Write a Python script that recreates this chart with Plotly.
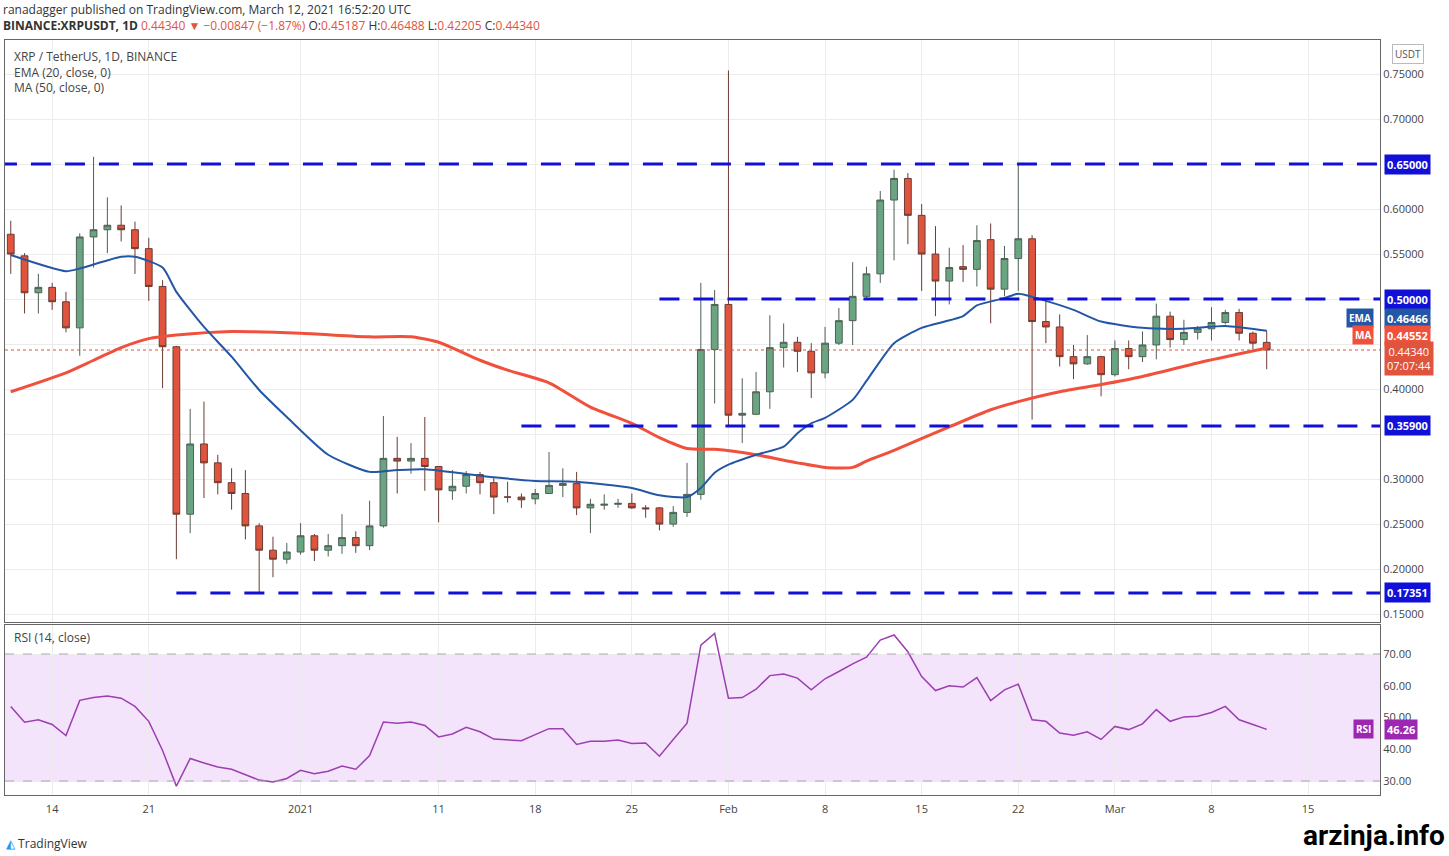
import pandas as pd
import plotly.graph_objects as go
from plotly.subplots import make_subplots

dates = [d.strftime("%Y-%m-%d") for d in pd.date_range("2020-12-11", periods=92, freq="D")]
opens = [0.572,0.548,0.507,0.513,0.497,0.468,0.569,0.577,0.582,0.577,0.556,0.514,0.447,0.261,0.339,0.318,0.296,0.284,0.248,0.221,0.211,0.219,0.237,0.221,0.226,0.235,0.226,0.248,0.323,0.320,0.323,0.314,0.287,0.292,0.305,0.296,0.280,0.280,0.278,0.284,0.293,0.295,0.268,0.271,0.272,0.273,0.268,0.268,0.250,0.263,0.283,0.444,0.494,0.371,0.372,0.397,0.446,0.452,0.442,0.418,0.451,0.476,0.503,0.528,0.610,0.634,0.593,0.550,0.520,0.536,0.533,0.566,0.511,0.545,0.567,0.475,0.469,0.436,0.428,0.436,0.416,0.445,0.436,0.449,0.481,0.455,0.463,0.467,0.474,0.485,0.462,0.45187]
highs = [0.587,0.551,0.528,0.518,0.508,0.573,0.658,0.613,0.604,0.586,0.568,0.521,0.448,0.378,0.386,0.327,0.312,0.310,0.251,0.236,0.229,0.251,0.239,0.239,0.261,0.242,0.276,0.370,0.347,0.340,0.369,0.314,0.310,0.309,0.308,0.301,0.297,0.284,0.289,0.330,0.312,0.308,0.278,0.283,0.278,0.284,0.271,0.269,0.270,0.318,0.518,0.510,0.754,0.412,0.419,0.482,0.473,0.458,0.451,0.469,0.490,0.541,0.536,0.620,0.6437,0.640,0.6055,0.581,0.557,0.560,0.582,0.584,0.559,0.650,0.571,0.498,0.483,0.449,0.460,0.437,0.454,0.454,0.464,0.495,0.486,0.477,0.470,0.491,0.488,0.489,0.464,0.46488]
lows = [0.528,0.484,0.484,0.488,0.463,0.437,0.535,0.551,0.564,0.528,0.498,0.401,0.211,0.240,0.279,0.283,0.266,0.233,0.174,0.191,0.206,0.216,0.209,0.214,0.217,0.218,0.221,0.246,0.284,0.306,0.287,0.252,0.277,0.284,0.283,0.261,0.274,0.268,0.272,0.284,0.280,0.260,0.240,0.266,0.268,0.267,0.257,0.243,0.247,0.258,0.277,0.384,0.360,0.340,0.371,0.378,0.424,0.419,0.390,0.412,0.449,0.449,0.500,0.518,0.543,0.561,0.509,0.481,0.494,0.519,0.514,0.473,0.503,0.509,0.366,0.451,0.425,0.411,0.427,0.392,0.414,0.422,0.430,0.433,0.446,0.449,0.455,0.454,0.472,0.454,0.444,0.42205]
closes = [0.550,0.507,0.513,0.497,0.468,0.569,0.577,0.582,0.577,0.556,0.514,0.447,0.261,0.339,0.318,0.296,0.284,0.248,0.221,0.211,0.219,0.237,0.221,0.226,0.235,0.226,0.248,0.323,0.320,0.323,0.314,0.288,0.292,0.305,0.296,0.280,0.280,0.277,0.284,0.293,0.295,0.268,0.272,0.272,0.273,0.268,0.267,0.250,0.263,0.283,0.444,0.494,0.371,0.373,0.397,0.446,0.452,0.442,0.418,0.451,0.476,0.503,0.528,0.610,0.634,0.593,0.550,0.520,0.535,0.533,0.565,0.511,0.545,0.567,0.475,0.469,0.436,0.428,0.436,0.416,0.445,0.436,0.449,0.481,0.455,0.463,0.467,0.474,0.485,0.462,0.451,0.44340]

ema_dates = ["2020-12-11","2020-12-15","2020-12-16","2020-12-19","2020-12-20","2020-12-22","2020-12-23","2020-12-25","2020-12-27","2020-12-29","2020-12-31","2021-01-03","2021-01-06","2021-01-08","2021-01-10","2021-01-15","2021-01-18","2021-01-21","2021-01-25","2021-01-27","2021-01-29","2021-01-30","2021-01-31","2021-02-01","2021-02-03","2021-02-05","2021-02-06","2021-02-07","2021-02-08","2021-02-10","2021-02-11","2021-02-13","2021-02-15","2021-02-18","2021-02-19","2021-02-21","2021-02-22","2021-02-24","2021-02-26","2021-02-28","2021-03-03","2021-03-06","2021-03-09","2021-03-12"]
ema_vals = [0.549,0.531,0.534,0.547,0.547,0.535,0.508,0.469,0.436,0.399,0.369,0.327,0.308,0.310,0.311,0.302,0.298,0.297,0.290,0.282,0.280,0.290,0.307,0.316,0.327,0.336,0.351,0.362,0.368,0.388,0.409,0.451,0.468,0.481,0.493,0.501,0.506,0.498,0.488,0.475,0.468,0.467,0.470,0.46466]
ma_dates = ["2020-12-11","2020-12-15","2020-12-17","2020-12-19","2020-12-21","2020-12-23","2020-12-27","2021-01-01","2021-01-06","2021-01-09","2021-01-11","2021-01-14","2021-01-16","2021-01-19","2021-01-22","2021-01-25","2021-01-27","2021-01-29","2021-01-31","2021-02-03","2021-02-06","2021-02-08","2021-02-10","2021-02-11","2021-02-13","2021-02-17","2021-02-20","2021-02-22","2021-02-25","2021-02-28","2021-03-03","2021-03-07","2021-03-12"]
ma_vals = [0.397,0.418,0.432,0.446,0.456,0.460,0.464,0.462,0.458,0.458,0.452,0.432,0.421,0.407,0.380,0.362,0.346,0.334,0.333,0.327,0.318,0.313,0.313,0.320,0.332,0.358,0.377,0.386,0.397,0.405,0.414,0.429,0.44552]
rsi_vals = [53.5,48.5,49.3,47.8,44.3,55.4,56.3,56.8,56.1,53.5,48.8,39.6,28.4,37.1,35.7,34.4,33.7,31.9,30.3,29.7,30.8,33.4,32.3,33.1,34.7,33.7,38.0,48.6,48.2,48.6,47.5,43.9,44.8,46.9,45.5,43.2,42.9,42.7,44.6,46.5,46.5,41.5,42.5,42.5,42.9,41.8,42.0,37.8,43.1,48.2,72.8,76.5,56.1,56.3,58.9,63.2,63.7,62.4,58.7,62.2,64.5,66.9,69.0,74.4,76.0,70.7,62.9,58.5,60.0,59.6,62.6,55.3,58.7,60.5,49.3,48.8,45.1,44.4,45.5,43.1,47.2,46.2,48.0,52.5,48.8,50.2,50.4,51.6,53.5,49.3,47.8,46.26]

levels = [0.65, 0.50, 0.359, 0.17351]
level_starts = ["2020-12-10", "2021-01-27", "2021-01-17", "2020-12-23"]
level_labels = ["0.65000", "0.50000", "0.35900", "0.17351"]
tick_dates = ["2020-12-14","2020-12-21","2021-01-01","2021-01-11","2021-01-18","2021-01-25","2021-02-01","2021-02-08","2021-02-15","2021-02-22","2021-03-01","2021-03-08","2021-03-15"]
tick_text = ["14","21","2021","11","18","25","Feb","8","15","22","Mar","8","15"]
price_ticks = [0.15,0.20,0.25,0.30,0.35,0.40,0.45,0.50,0.55,0.60,0.65,0.70,0.75]
price_tick_text = ["0.15000","0.20000","0.25000","0.30000","","0.40000","","","0.55000","0.60000","","0.70000","0.75000"]
rsi_ticks = [30,40,50,60,70]
rsi_tick_text = ["30.00","40.00","50.00","60.00","70.00"]

FONT = "Open Sans"
GRID = "#ececec"
fig = make_subplots(rows=2, cols=1, shared_xaxes=True, vertical_spacing=0.004, row_heights=[0.771, 0.225])

fig.add_trace(go.Candlestick(x=dates, open=opens, high=highs, low=lows, close=closes,
    increasing=dict(fillcolor="#6aa583", line=dict(color="#4f5f55", width=1)),
    decreasing=dict(fillcolor="#e0533d", line=dict(color="#6b3b33", width=1)),
    whiskerwidth=0, showlegend=False, hoverinfo="skip"), row=1, col=1)
fig.add_trace(go.Scatter(x=ma_dates, y=ma_vals, mode="lines", line=dict(color="#f0503c", width=3, shape="spline", smoothing=0.6), showlegend=False), row=1, col=1)
fig.add_trace(go.Scatter(x=ema_dates, y=ema_vals, mode="lines", line=dict(color="#2456a6", width=2, shape="spline", smoothing=0.6), showlegend=False), row=1, col=1)
fig.add_trace(go.Scatter(x=dates, y=rsi_vals, mode="lines", line=dict(color="#9c3fb0", width=1.5), showlegend=False), row=2, col=1)

x_range = ["2020-12-10 14:00", "2021-03-20 05:00"]
for r in (1, 2):
    fig.update_xaxes(range=x_range, tickvals=tick_dates, ticktext=tick_text, showgrid=True, gridcolor=GRID,
                     showline=True, linecolor="#666", mirror=True, rangeslider_visible=False, automargin=False,
                     tickfont=dict(family=FONT, size=11, color="#444"), ticks="outside", ticklen=4, tickcolor="white", row=r, col=1)
fig.update_xaxes(showticklabels=False, row=1, col=1)
fig.update_yaxes(range=[0.1411, 0.7878], side="right", tickvals=price_ticks, ticktext=price_tick_text, gridcolor=GRID, automargin=False,
                 showline=True, linecolor="#666", mirror=True, tickfont=dict(family=FONT, size=11, color="#444"), row=1, col=1)
fig.update_yaxes(range=[25.6, 79.1], side="right", tickvals=rsi_ticks, ticktext=rsi_tick_text, gridcolor=GRID, automargin=False,
                 showline=True, linecolor="#666", mirror=True, tickfont=dict(family=FONT, size=11, color="#444"), row=2, col=1)

fig.add_hrect(y0=30, y1=70, fillcolor="#f3e3fb", opacity=1, line_width=0, layer="below", row=2, col=1)
for v in (30, 70):
    fig.add_shape(type="line", xref="x2 domain", x0=0, x1=1, yref="y2", y0=v, y1=v, line=dict(color="#b0a0b8", width=1, dash="dash"))

for lv, st in zip(levels, level_starts):
    fig.add_shape(type="line", xref="x", x0=st, x1=x_range[1], yref="y", y0=lv, y1=lv,
                  line=dict(color="#1010d8", width=3, dash="20px,14px"))
fig.add_shape(type="line", xref="x domain", x0=0, x1=1, yref="y", y0=closes[-1], y1=closes[-1],
              line=dict(color="#e0533d", width=1, dash="dot"))

def label(y, text, bg, fc="white", yref="y", x=1.0, xanchor="left", size=11, bold=True, xshift=4):
    fig.add_annotation(xref="paper", x=x, xanchor=xanchor, yref=yref, y=y, text=("<b>%s</b>" % text) if bold else text,
                       showarrow=False, bgcolor=bg, font=dict(family=FONT, size=size, color=fc), borderpad=2, xshift=xshift)

for lv, t in zip(levels, level_labels):
    label(lv, t, "#1010d8")
label(0.4789, "0.46466", "#2456a6")
label(0.4789, "EMA", "#2456a6", xanchor="right", size=10, xshift=-6)
label(0.4600, "0.44552", "#f0503c")
label(0.4600, "MA", "#f0503c", xanchor="right", size=10, xshift=-6)
label(0.4344, "0.44340<br>07:07:44", "#e0533d", bold=False)
label(rsi_vals[-1], "46.26", "#9c27b0", yref="y2")
label(rsi_vals[-1], "RSI", "#9c27b0", yref="y2", xanchor="right", size=10, xshift=-6)
fig.add_annotation(xref="paper", yref="paper", x=1.0, y=1.0, xanchor="left", yanchor="top", xshift=12, yshift=-4,
                   text="USDT", showarrow=False, font=dict(family=FONT, size=10, color="#555"),
                   bordercolor="#bbb", borderwidth=1, borderpad=2, bgcolor="white")

txt = dict(family=FONT, size=12, color="#444")
fig.add_annotation(xref="paper", yref="paper", x=0.005, y=0.992, xanchor="left", yanchor="top", showarrow=False,
                   align="left", text="XRP / TetherUS, 1D, BINANCE<br>EMA (20, close, 0)<br>MA (50, close, 0)", font=txt)
fig.add_annotation(xref="paper", yref="paper", x=0.005, y=0.222, xanchor="left", yanchor="top", showarrow=False,
                   text="RSI (14, close)", font=txt)
fig.add_annotation(xref="paper", yref="paper", x=-0.003, y=1.040, xanchor="left", yanchor="middle", showarrow=False,
                   text="ranadagger published on TradingView.com, March 12, 2021 16:52:20 UTC", font=dict(family=FONT, size=12, color="#333"))
fig.add_annotation(xref="paper", yref="paper", x=-0.003, y=1.019, xanchor="left", yanchor="middle", showarrow=False,
                   text="<b>BINANCE:XRPUSDT, 1D</b> <span style='color:#e0533d'>0.44340 ▼ −0.00847 (−1.87%)</span> O:<span style='color:#e0533d'>0.45187</span> H:<span style='color:#e0533d'>0.46488</span> L:<span style='color:#e0533d'>0.42205</span> C:<span style='color:#e0533d'>0.44340</span>",
                   font=dict(family=FONT, size=12, color="#333"))
fig.add_annotation(xref="paper", yref="paper", x=-0.001, y=-0.064, xanchor="left", yanchor="middle", showarrow=False,
                   text="<span style='color:#2196f3'>◭</span> TradingView", font=dict(family=FONT, size=12, color="#333"))
fig.add_annotation(xref="paper", yref="paper", x=1.049, y=-0.053, xanchor="right", yanchor="middle", showarrow=False,
                   text="<b>arzinja.info</b>", font=dict(family="Roboto", size=28, color="#000"))

fig.update_layout(width=1449, height=856, margin=dict(l=5, r=69, t=40, b=61, autoexpand=False),
                  paper_bgcolor="white", plot_bgcolor="white", showlegend=False)
fig.write_html("out.html", config={"displayModeBar": False},
               post_script="document.body.style.margin='0';document.body.style.overflow='hidden';")
